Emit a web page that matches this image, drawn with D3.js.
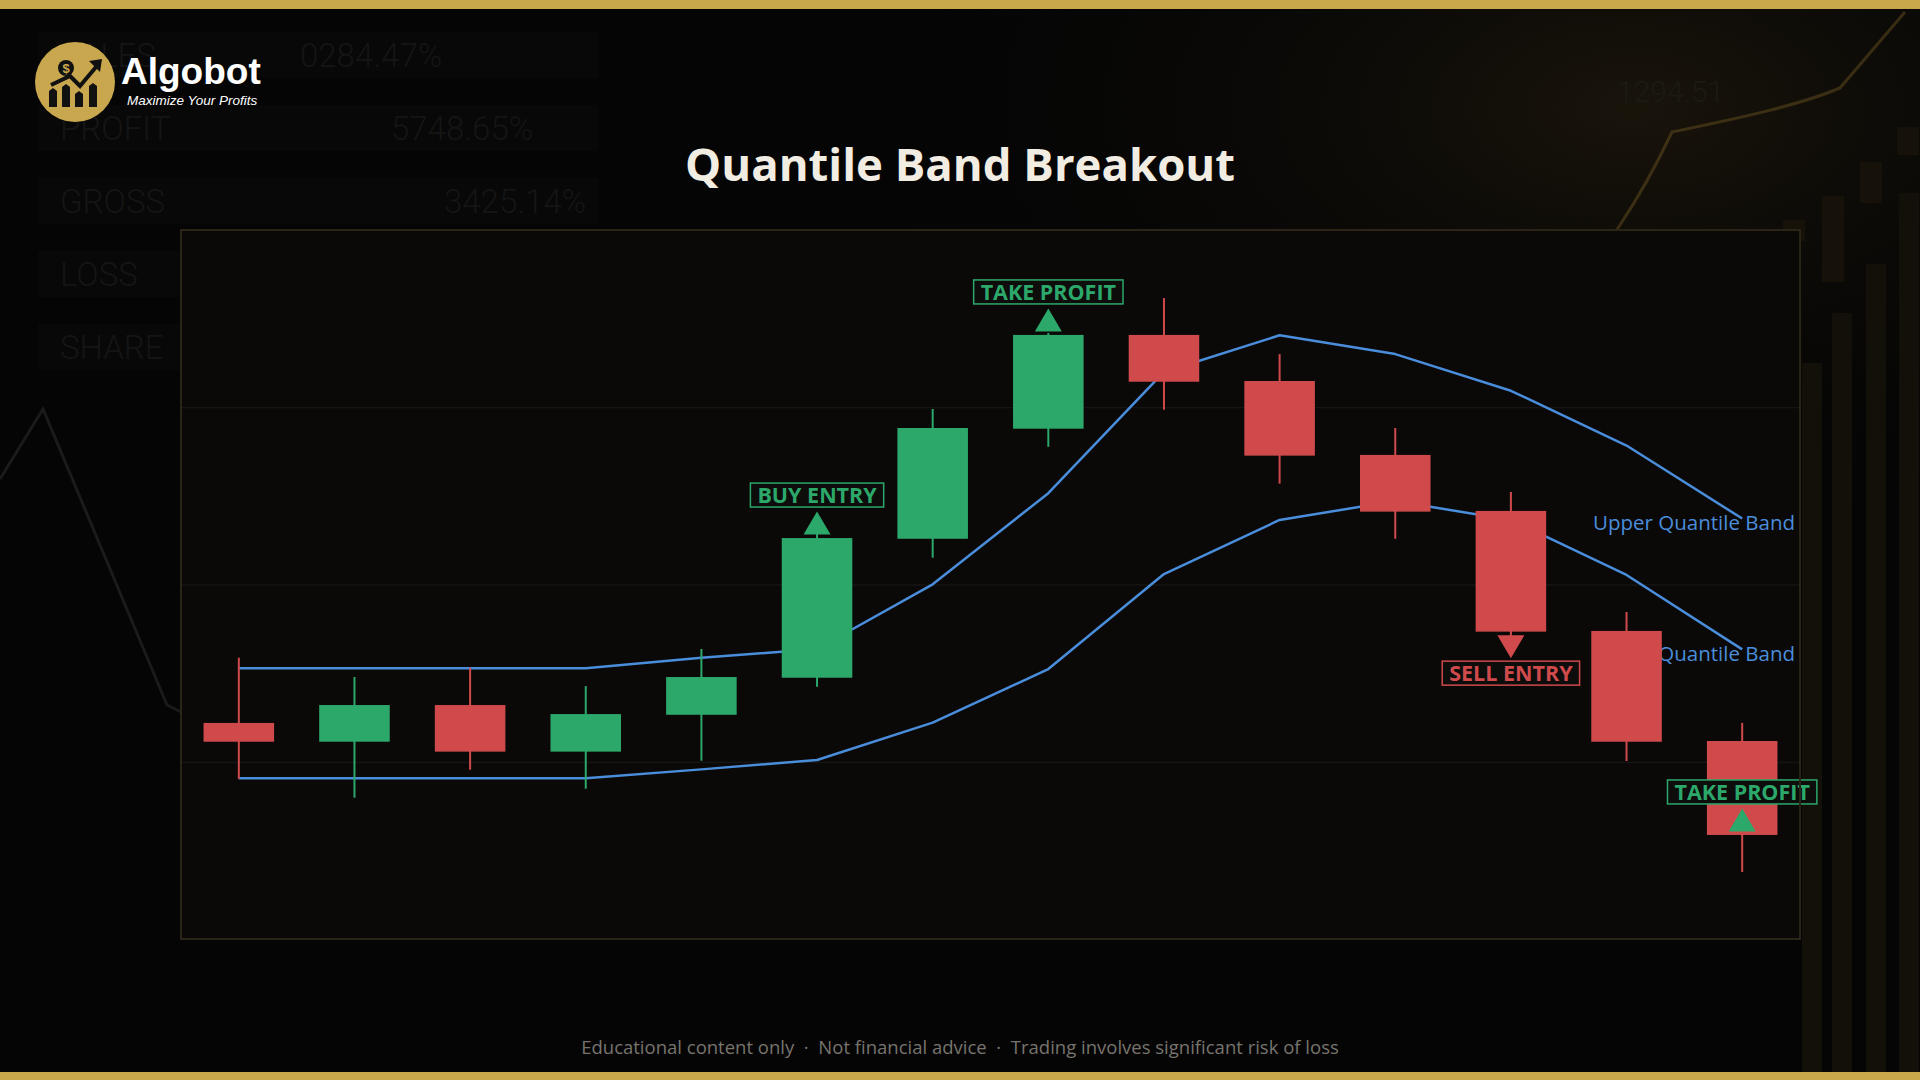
<!DOCTYPE html>
<html>
<head>
<meta charset="utf-8">
<script src="https://cdn.jsdelivr.net/npm/d3@7/dist/d3.min.js"></script>
<style>
  html, body { margin: 0; padding: 0; background: #050505; overflow: hidden; }
  svg { display: block; }
</style>
</head>
<body>
<div class="chart"></div>
<script>
// ---------- data ----------
var candles = ['C1','C2','C3','C4','C5','C6','C7','C8','C9','C10','C11','C12','C13','C14'];
var opens  = [102.19, 101.13, 103.20, 100.57, 102.65, 104.74, 112.58, 118.79, 124.08, 121.48, 117.31, 114.15, 107.38, 101.17];
var highs  = [105.87, 104.78, 105.31, 104.27, 106.36, 112.85, 119.90, 124.19, 126.16, 123.00, 118.83, 115.22, 108.45, 102.19];
var lows   = [ 99.03,  97.97,  99.55,  98.48, 100.06, 104.23, 111.51, 117.77, 119.86, 115.69, 112.58, 107.00, 100.04,  93.78];
var closes = [101.13, 103.20, 100.57, 102.69, 104.78, 112.62, 118.83, 124.08, 121.44, 117.27, 114.11, 107.34, 101.13,  95.87];

var upperBand = [105.27, 105.27, 105.27, 105.27, 105.87, 106.36, 110.01, 115.15, 121.99, 124.06, 123.00, 120.93, 117.84, 113.72];
var lowerBand = [ 99.07,  99.07,  99.07,  99.07,  99.57, 100.10, 102.21, 105.23, 110.59, 113.64, 114.71, 113.64, 110.54, 106.34];
var bandNames = ['Upper Quantile Band', 'Lower Quantile Band'];

var signalBars   = [5, 7, 11, 13];
var signalDirs   = ['up', 'up', 'down', 'up'];
var signalLabels = ['BUY ENTRY', 'TAKE PROFIT', 'SELL ENTRY', 'TAKE PROFIT'];

var priceDomain = [90, 130];
var gridTicks = [100, 110, 120];

var title = 'Quantile Band Breakout';
var footer = 'Educational content only  \u00b7  Not financial advice  \u00b7  Trading involves significant risk of loss';

// faint backdrop stats (decoration of the slide background)
var statNames  = ['SALES', 'PROFIT', 'GROSS', 'LOSS', 'SHARE'];
var statValues = ['0284.47%', '5748.65%', '3425.14%', '', ''];

// ---------- layout ----------
var W = 1920, H = 1080;
var margin = { top: 230, right: 120, bottom: 141, left: 181 };
var width = W - margin.left - margin.right;
var height = H - margin.top - margin.bottom;

var GREEN = '#2ca86b', RED = '#d04a4c', BLUE = '#4a8ddb', GOLD = '#c9a84c';

var svg = d3.select('.chart')
  .append('svg')
  .attr('width', W)
  .attr('height', H);

var defs = svg.append('defs');
var glow = defs.append('radialGradient').attr('id', 'glow')
  .attr('cx', '85%').attr('cy', '10%').attr('r', '40%');
glow.append('stop').attr('offset', '0%').attr('stop-color', '#2a2110').attr('stop-opacity', 0.55);
glow.append('stop').attr('offset', '100%').attr('stop-color', '#050505').attr('stop-opacity', 0);

svg.append('rect').attr('width', W).attr('height', H).attr('fill', '#050505');
svg.append('rect').attr('width', W).attr('height', H).attr('fill', 'url(#glow)');

// ---------- backdrop decoration ----------
var deco = svg.append('g').attr('class', 'deco');

deco.selectAll('.statRow')
  .data(statNames)
  .enter()
  .append('rect')
  .attr('x', 38)
  .attr('y', (d, i) => 32 + i * 73)
  .attr('width', (d, i) => i < 3 ? 560 : 160)
  .attr('height', 46)
  .attr('fill', '#080808');

deco.selectAll('.statName')
  .data(statNames)
  .enter()
  .append('text')
  .attr('x', 60)
  .attr('y', (d, i) => 67 + i * 73)
  .style('font-family', 'Roboto, sans-serif')
  .style('font-weight', 300)
  .style('font-size', '33px')
  .style('fill', '#151515')
  .text(d => d);

var statX = [300, 391, 444];
deco.selectAll('.statValue')
  .data(statValues.filter(d => d))
  .enter()
  .append('text')
  .attr('x', (d, i) => statX[i])
  .attr('y', (d, i) => 67 + i * 73)
  .style('font-family', 'Roboto, sans-serif')
  .style('font-weight', 300)
  .style('font-size', '33px')
  .style('fill', '#151515')
  .text(d => d);

deco.append('path')
  .attr('d', 'M0,479 L43,409 L167,705 L181,712')
  .style('fill', 'none')
  .style('stroke', '#1b1b1b')
  .style('stroke-width', 3);

deco.append('text')
  .attr('x', 1617).attr('y', 102)
  .style('font-family', 'Roboto, sans-serif')
  .style('font-weight', 300)
  .style('font-size', '30px')
  .style('fill', '#1c1a14')
  .text('1294.51');

deco.append('path')
  .attr('d', 'M1560,300 C1600,260 1640,200 1672,132 C1740,118 1800,105 1840,88 L1905,12')
  .style('fill', 'none')
  .style('stroke', '#7a5e26')
  .style('stroke-opacity', 0.4)
  .style('stroke-width', 3);

var decoBars = [[1802, 363], [1832, 313], [1866, 264], [1899, 193]];
deco.selectAll('.decoBar')
  .data(decoBars)
  .enter()
  .append('rect')
  .attr('x', d => d[0]).attr('y', d => d[1])
  .attr('width', 20).attr('height', d => H - d[1])
  .attr('fill', '#121009');

var decoCandles = [[1783, 220, 21], [1822, 196, 86], [1860, 162, 41], [1897, 127, 28]];
deco.selectAll('.decoCandle')
  .data(decoCandles)
  .enter()
  .append('rect')
  .attr('x', d => d[0]).attr('y', d => d[1])
  .attr('width', 22).attr('height', d => d[2])
  .attr('fill', '#161209');

// ---------- gold bars ----------
svg.append('rect').attr('x', 0).attr('y', 0).attr('width', W).attr('height', 9).attr('fill', GOLD);
svg.append('rect').attr('x', 0).attr('y', H - 8).attr('width', W).attr('height', 8).attr('fill', GOLD);

// ---------- logo ----------
var logo = svg.append('g').attr('transform', 'translate(75,82)');
logo.append('circle').attr('r', 40).attr('fill', '#c9a74e');
var logoBars = [[-26, 6, 8], [-13, 2, 8], [0, 9, 8], [14, 1, 8]];
logo.selectAll('.lb')
  .data(logoBars)
  .enter()
  .append('path')
  .attr('d', d => 'M' + d[0] + ',25 V' + (d[1] + 3) + ' L' + (d[0] + d[2] / 2) + ',' + d[1] +
    ' L' + (d[0] + d[2]) + ',' + (d[1] + 3) + ' V25 Z')
  .attr('fill', '#111');
logo.append('path')
  .attr('d', 'M-24,3 L-5,-6 L5,4 L21,-15')
  .style('fill', 'none').style('stroke', '#111').style('stroke-width', 4)
  .style('stroke-linejoin', 'miter');
logo.append('path').attr('d', 'M14,-21 L27,-23 L25,-10 Z').attr('fill', '#111');
logo.append('circle').attr('cx', -9).attr('cy', -14).attr('r', 8).attr('fill', '#111');
logo.append('text')
  .attr('x', -9).attr('y', -9.5)
  .style('text-anchor', 'middle')
  .style('font-family', 'Liberation Sans, Arial, sans-serif')
  .style('font-weight', 700)
  .style('font-size', '13px')
  .style('fill', '#c9a74e')
  .text('$');

svg.append('text')
  .attr('x', 121).attr('y', 84)
  .style('font-family', 'Liberation Sans, Arial, sans-serif')
  .style('font-weight', 700)
  .style('font-size', '37px')
  .style('fill', '#ffffff')
  .text('Algobot');
svg.append('text')
  .attr('x', 127).attr('y', 105)
  .style('font-family', 'Liberation Sans, Arial, sans-serif')
  .style('font-style', 'italic')
  .style('font-size', '13.5px')
  .style('fill', '#ffffff')
  .text('Maximize Your Profits');

// ---------- title ----------
svg.append('text')
  .attr('x', W / 2).attr('y', 181)
  .style('text-anchor', 'middle')
  .style('font-family', '"Open Sans", sans-serif')
  .style('font-weight', 700)
  .style('font-size', '45.5px')
  .style('fill', '#f2ede2')
  .text(title);

// ---------- plot ----------
var g = svg.append('g')
  .attr('transform', 'translate(' + margin.left + ',' + margin.top + ')');

var xScale = d3.scaleBand()
  .domain(candles)
  .range([0, width])
  .padding(0);

var yScale = d3.scaleLinear()
  .domain(priceDomain)
  .range([height, 0]);

var cx = i => xScale(candles[i]) + xScale.bandwidth() / 2;
var bodyW = xScale.bandwidth() * 0.61;

g.append('rect')
  .attr('width', width).attr('height', height)
  .attr('fill', '#0a0908');

g.append('g')
  .attr('class', 'grid')
  .call(d3.axisLeft(yScale).tickValues(gridTicks).tickSize(-width).tickFormat(''))
  .call(s => s.select('.domain').remove())
  .call(s => s.selectAll('line').style('stroke', '#1b1a18').style('stroke-width', 1));

var line = d3.line()
  .x((d, i) => cx(i))
  .y(d => yScale(d));

[upperBand, lowerBand].forEach((band, k) => {
  g.append('path')
    .attr('class', 'band')
    .attr('d', line(band))
    .style('fill', 'none')
    .style('stroke', BLUE)
    .style('stroke-width', 2.5)
    .style('stroke-linejoin', 'round');

  g.append('text')
    .attr('x', width - 5)
    .attr('y', yScale(band[band.length - 1]))
    .attr('dy', '0.55em')
    .style('text-anchor', 'end')
    .style('font-family', '"Open Sans", sans-serif')
    .style('font-size', '20.5px')
    .style('fill', BLUE)
    .text(bandNames[k]);
});

var idx = d3.range(candles.length);
var colorOf = i => closes[i] >= opens[i] ? GREEN : RED;

g.selectAll('.wick')
  .data(idx)
  .enter()
  .append('line')
  .attr('class', 'wick')
  .attr('x1', cx).attr('x2', cx)
  .attr('y1', i => yScale(highs[i]))
  .attr('y2', i => yScale(lows[i]))
  .style('stroke', colorOf)
  .style('stroke-width', 2);

g.selectAll('.body')
  .data(idx)
  .enter()
  .append('rect')
  .attr('class', 'body')
  .attr('x', i => cx(i) - bodyW / 2)
  .attr('y', i => yScale(Math.max(opens[i], closes[i])))
  .attr('width', bodyW)
  .attr('height', i => Math.abs(yScale(opens[i]) - yScale(closes[i])))
  .style('fill', colorOf);

// ---------- signals ----------
var triH = 23, triHalf = 13.5, boxH = 24, padX = 7;

signalBars.forEach((b, k) => {
  var up = signalDirs[k] === 'up';
  var col = signalLabels[k] === 'SELL ENTRY' ? RED : GREEN;
  var base = yScale(closes[b]) + (up ? -3.5 : 3.5);
  var tip = base + (up ? -triH : triH);
  var x0 = cx(b);

  g.append('path')
    .attr('d', 'M' + (x0 - triHalf) + ',' + base + ' L' + x0 + ',' + tip + ' L' + (x0 + triHalf) + ',' + base + ' Z')
    .style('fill', col);

  var boxY = up ? tip - 4.5 - boxH : tip + 3;
  var lg = g.append('g');
  var rect = lg.append('rect');
  var txt = lg.append('text')
    .attr('x', x0)
    .attr('y', boxY + boxH / 2 + 7.8)
    .style('text-anchor', 'middle')
    .style('font-family', '"Open Sans", sans-serif')
    .style('font-weight', 700)
    .style('font-size', '21.5px')
    .style('fill', col)
    .text(signalLabels[k]);
  var tw = txt.node().getComputedTextLength();
  rect.attr('x', x0 - tw / 2 - padX)
    .attr('y', boxY)
    .attr('width', tw + padX * 2)
    .attr('height', boxH)
    .style('fill', '#0d0d0c')
    .style('stroke', col)
    .style('stroke-width', 1.5);
});

// plot frame
g.append('rect')
  .attr('width', width).attr('height', height)
  .style('fill', 'none')
  .style('stroke', '#2b2517')
  .style('stroke-width', 2);

// ---------- footer ----------
svg.append('text')
  .attr('x', W / 2).attr('y', 1054)
  .style('text-anchor', 'middle')
  .style('white-space', 'pre')
  .style('font-family', '"Open Sans", sans-serif')
  .style('font-size', '18.5px')
  .style('fill', '#77746e')
  .text(footer);
</script>
</body>
</html>
